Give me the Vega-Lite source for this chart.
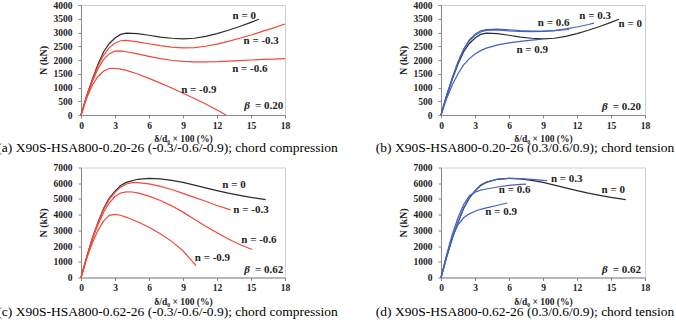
{
  "$schema": "https://vega.github.io/schema/vega-lite/v6.json",
  "padding": {"left": -4, "top": -1, "right": 0, "bottom": 0},
  "autosize": {"type": "pad"},
  "background": "white",
  "bounds": "flush",
  "columns": 2,
  "spacing": {"row": 52.5, "column": 156},
  "datasets": {
    "a": [
      {"s":"n0","t":"ref","x":0,"y":0},{"s":"n0","t":"ref","x":0.5,"y":700},{"s":"n0","t":"ref","x":1,"y":1300},{"s":"n0","t":"ref","x":1.5,"y":1850},{"s":"n0","t":"ref","x":2,"y":2300},{"s":"n0","t":"ref","x":2.5,"y":2600},{"s":"n0","t":"ref","x":3,"y":2800},{"s":"n0","t":"ref","x":3.5,"y":2930},{"s":"n0","t":"ref","x":4,"y":2980},{"s":"n0","t":"ref","x":5,"y":2960},{"s":"n0","t":"ref","x":6,"y":2900},{"s":"n0","t":"ref","x":7,"y":2830},{"s":"n0","t":"ref","x":8,"y":2790},{"s":"n0","t":"ref","x":9,"y":2770},{"s":"n0","t":"ref","x":10,"y":2790},{"s":"n0","t":"ref","x":11,"y":2860},{"s":"n0","t":"ref","x":12,"y":2960},{"s":"n0","t":"ref","x":13,"y":3080},{"s":"n0","t":"ref","x":14,"y":3220},{"s":"n0","t":"ref","x":15,"y":3370},{"s":"n0","t":"ref","x":15.7,"y":3480},
      {"s":"m03","t":"c","x":0,"y":0},{"s":"m03","t":"c","x":0.5,"y":690},{"s":"m03","t":"c","x":1,"y":1270},{"s":"m03","t":"c","x":1.5,"y":1780},{"s":"m03","t":"c","x":2,"y":2180},{"s":"m03","t":"c","x":2.5,"y":2450},{"s":"m03","t":"c","x":3,"y":2620},{"s":"m03","t":"c","x":3.5,"y":2700},{"s":"m03","t":"c","x":4,"y":2710},{"s":"m03","t":"c","x":5,"y":2660},{"s":"m03","t":"c","x":6,"y":2590},{"s":"m03","t":"c","x":7,"y":2520},{"s":"m03","t":"c","x":8,"y":2470},{"s":"m03","t":"c","x":9,"y":2440},{"s":"m03","t":"c","x":10,"y":2450},{"s":"m03","t":"c","x":11,"y":2500},{"s":"m03","t":"c","x":12,"y":2580},{"s":"m03","t":"c","x":13,"y":2680},{"s":"m03","t":"c","x":14,"y":2790},{"s":"m03","t":"c","x":15,"y":2910},{"s":"m03","t":"c","x":16,"y":3040},{"s":"m03","t":"c","x":17,"y":3170},{"s":"m03","t":"c","x":18,"y":3310},
      {"s":"m06","t":"c","x":0,"y":0},{"s":"m06","t":"c","x":0.5,"y":670},{"s":"m06","t":"c","x":1,"y":1220},{"s":"m06","t":"c","x":1.5,"y":1680},{"s":"m06","t":"c","x":2,"y":2020},{"s":"m06","t":"c","x":2.5,"y":2230},{"s":"m06","t":"c","x":3,"y":2320},{"s":"m06","t":"c","x":3.5,"y":2330},{"s":"m06","t":"c","x":4,"y":2300},{"s":"m06","t":"c","x":5,"y":2220},{"s":"m06","t":"c","x":6,"y":2130},{"s":"m06","t":"c","x":7,"y":2050},{"s":"m06","t":"c","x":8,"y":1990},{"s":"m06","t":"c","x":9,"y":1950},{"s":"m06","t":"c","x":10,"y":1930},{"s":"m06","t":"c","x":11,"y":1930},{"s":"m06","t":"c","x":12,"y":1940},{"s":"m06","t":"c","x":13,"y":1960},{"s":"m06","t":"c","x":14,"y":1980},{"s":"m06","t":"c","x":15,"y":2000},{"s":"m06","t":"c","x":16,"y":2020},{"s":"m06","t":"c","x":17,"y":2035},{"s":"m06","t":"c","x":18,"y":2050},
      {"s":"m09","t":"c","x":0,"y":0},{"s":"m09","t":"c","x":0.5,"y":620},{"s":"m09","t":"c","x":1,"y":1080},{"s":"m09","t":"c","x":1.5,"y":1400},{"s":"m09","t":"c","x":2,"y":1600},{"s":"m09","t":"c","x":2.5,"y":1690},{"s":"m09","t":"c","x":3,"y":1700},{"s":"m09","t":"c","x":3.5,"y":1670},{"s":"m09","t":"c","x":4,"y":1620},{"s":"m09","t":"c","x":5,"y":1490},{"s":"m09","t":"c","x":6,"y":1330},{"s":"m09","t":"c","x":7,"y":1160},{"s":"m09","t":"c","x":8,"y":980},{"s":"m09","t":"c","x":9,"y":790},{"s":"m09","t":"c","x":10,"y":600},{"s":"m09","t":"c","x":11,"y":400},{"s":"m09","t":"c","x":12,"y":180},{"s":"m09","t":"c","x":12.8,"y":0}
    ],
    "b": [
      {"s":"n0","t":"ref","x":0,"y":0},{"s":"n0","t":"ref","x":0.5,"y":700},{"s":"n0","t":"ref","x":1,"y":1300},{"s":"n0","t":"ref","x":1.5,"y":1850},{"s":"n0","t":"ref","x":2,"y":2300},{"s":"n0","t":"ref","x":2.5,"y":2600},{"s":"n0","t":"ref","x":3,"y":2800},{"s":"n0","t":"ref","x":3.5,"y":2930},{"s":"n0","t":"ref","x":4,"y":2980},{"s":"n0","t":"ref","x":5,"y":2960},{"s":"n0","t":"ref","x":6,"y":2900},{"s":"n0","t":"ref","x":7,"y":2830},{"s":"n0","t":"ref","x":8,"y":2790},{"s":"n0","t":"ref","x":9,"y":2770},{"s":"n0","t":"ref","x":10,"y":2790},{"s":"n0","t":"ref","x":11,"y":2860},{"s":"n0","t":"ref","x":12,"y":2960},{"s":"n0","t":"ref","x":13,"y":3080},{"s":"n0","t":"ref","x":14,"y":3220},{"s":"n0","t":"ref","x":15,"y":3370},{"s":"n0","t":"ref","x":15.7,"y":3480},
      {"s":"p03","t":"t","x":0,"y":0},{"s":"p03","t":"t","x":0.5,"y":720},{"s":"p03","t":"t","x":1,"y":1350},{"s":"p03","t":"t","x":1.5,"y":1920},{"s":"p03","t":"t","x":2,"y":2380},{"s":"p03","t":"t","x":2.5,"y":2700},{"s":"p03","t":"t","x":3,"y":2900},{"s":"p03","t":"t","x":3.5,"y":3020},{"s":"p03","t":"t","x":4,"y":3080},{"s":"p03","t":"t","x":5,"y":3090},{"s":"p03","t":"t","x":6,"y":3060},{"s":"p03","t":"t","x":7,"y":3040},{"s":"p03","t":"t","x":8,"y":3030},{"s":"p03","t":"t","x":9,"y":3040},{"s":"p03","t":"t","x":10,"y":3070},{"s":"p03","t":"t","x":11,"y":3130},{"s":"p03","t":"t","x":12,"y":3200},{"s":"p03","t":"t","x":13,"y":3290},{"s":"p03","t":"t","x":13.5,"y":3340},
      {"s":"p06","t":"t","x":0,"y":0},{"s":"p06","t":"t","x":0.5,"y":720},{"s":"p06","t":"t","x":1,"y":1350},{"s":"p06","t":"t","x":1.5,"y":1930},{"s":"p06","t":"t","x":2,"y":2400},{"s":"p06","t":"t","x":2.5,"y":2730},{"s":"p06","t":"t","x":3,"y":2940},{"s":"p06","t":"t","x":3.5,"y":3060},{"s":"p06","t":"t","x":4,"y":3110},{"s":"p06","t":"t","x":5,"y":3120},{"s":"p06","t":"t","x":6,"y":3100},{"s":"p06","t":"t","x":7,"y":3070},{"s":"p06","t":"t","x":8,"y":3050},{"s":"p06","t":"t","x":9,"y":3050},{"s":"p06","t":"t","x":10,"y":3070},{"s":"p06","t":"t","x":11,"y":3100},{"s":"p06","t":"t","x":11.3,"y":3110},
      {"s":"p09","t":"t","x":0,"y":0},{"s":"p09","t":"t","x":0.5,"y":600},{"s":"p09","t":"t","x":1,"y":1100},{"s":"p09","t":"t","x":1.5,"y":1500},{"s":"p09","t":"t","x":2,"y":1820},{"s":"p09","t":"t","x":2.5,"y":2050},{"s":"p09","t":"t","x":3,"y":2220},{"s":"p09","t":"t","x":3.5,"y":2340},{"s":"p09","t":"t","x":4,"y":2430},{"s":"p09","t":"t","x":5,"y":2550},{"s":"p09","t":"t","x":6,"y":2620},{"s":"p09","t":"t","x":7,"y":2680},{"s":"p09","t":"t","x":8,"y":2720},{"s":"p09","t":"t","x":8.9,"y":2760}
    ],
    "c": [
      {"s":"n0","t":"ref","x":0,"y":0},{"s":"n0","t":"ref","x":0.5,"y":1300},{"s":"n0","t":"ref","x":1,"y":2500},{"s":"n0","t":"ref","x":1.5,"y":3500},{"s":"n0","t":"ref","x":2,"y":4400},{"s":"n0","t":"ref","x":2.5,"y":5050},{"s":"n0","t":"ref","x":3,"y":5500},{"s":"n0","t":"ref","x":3.5,"y":5850},{"s":"n0","t":"ref","x":4,"y":6050},{"s":"n0","t":"ref","x":5,"y":6250},{"s":"n0","t":"ref","x":6,"y":6310},{"s":"n0","t":"ref","x":7,"y":6270},{"s":"n0","t":"ref","x":8,"y":6180},{"s":"n0","t":"ref","x":9,"y":6050},{"s":"n0","t":"ref","x":10,"y":5880},{"s":"n0","t":"ref","x":11,"y":5700},{"s":"n0","t":"ref","x":12,"y":5530},{"s":"n0","t":"ref","x":13,"y":5370},{"s":"n0","t":"ref","x":14,"y":5230},{"s":"n0","t":"ref","x":15,"y":5100},{"s":"n0","t":"ref","x":16.3,"y":4960},
      {"s":"m03","t":"c","x":0,"y":0},{"s":"m03","t":"c","x":0.5,"y":1290},{"s":"m03","t":"c","x":1,"y":2480},{"s":"m03","t":"c","x":1.5,"y":3480},{"s":"m03","t":"c","x":2,"y":4350},{"s":"m03","t":"c","x":2.5,"y":4980},{"s":"m03","t":"c","x":3,"y":5420},{"s":"m03","t":"c","x":3.5,"y":5750},{"s":"m03","t":"c","x":4,"y":5950},{"s":"m03","t":"c","x":4.5,"y":6040},{"s":"m03","t":"c","x":5,"y":6040},{"s":"m03","t":"c","x":6,"y":5960},{"s":"m03","t":"c","x":7,"y":5800},{"s":"m03","t":"c","x":8,"y":5600},{"s":"m03","t":"c","x":9,"y":5350},{"s":"m03","t":"c","x":10,"y":5100},{"s":"m03","t":"c","x":11,"y":4850},{"s":"m03","t":"c","x":12,"y":4580},{"s":"m03","t":"c","x":13.2,"y":4300},
      {"s":"m06","t":"c","x":0,"y":0},{"s":"m06","t":"c","x":0.5,"y":1270},{"s":"m06","t":"c","x":1,"y":2420},{"s":"m06","t":"c","x":1.5,"y":3380},{"s":"m06","t":"c","x":2,"y":4150},{"s":"m06","t":"c","x":2.5,"y":4750},{"s":"m06","t":"c","x":3,"y":5150},{"s":"m06","t":"c","x":3.5,"y":5380},{"s":"m06","t":"c","x":4,"y":5450},{"s":"m06","t":"c","x":4.5,"y":5440},{"s":"m06","t":"c","x":5,"y":5380},{"s":"m06","t":"c","x":6,"y":5180},{"s":"m06","t":"c","x":7,"y":4900},{"s":"m06","t":"c","x":8,"y":4560},{"s":"m06","t":"c","x":9,"y":4160},{"s":"m06","t":"c","x":10,"y":3710},{"s":"m06","t":"c","x":11,"y":3260},{"s":"m06","t":"c","x":12,"y":2850},{"s":"m06","t":"c","x":13,"y":2450},{"s":"m06","t":"c","x":14,"y":2100},{"s":"m06","t":"c","x":15.1,"y":1780},
      {"s":"m09","t":"c","x":0,"y":0},{"s":"m09","t":"c","x":0.5,"y":1200},{"s":"m09","t":"c","x":1,"y":2200},{"s":"m09","t":"c","x":1.5,"y":3000},{"s":"m09","t":"c","x":2,"y":3600},{"s":"m09","t":"c","x":2.5,"y":3950},{"s":"m09","t":"c","x":3,"y":4020},{"s":"m09","t":"c","x":3.5,"y":3960},{"s":"m09","t":"c","x":4,"y":3830},{"s":"m09","t":"c","x":5,"y":3550},{"s":"m09","t":"c","x":6,"y":3200},{"s":"m09","t":"c","x":7,"y":2780},{"s":"m09","t":"c","x":8,"y":2300},{"s":"m09","t":"c","x":9,"y":1700},{"s":"m09","t":"c","x":10.15,"y":750}
    ],
    "d": [
      {"s":"n0","t":"ref","x":0,"y":0},{"s":"n0","t":"ref","x":0.5,"y":1300},{"s":"n0","t":"ref","x":1,"y":2500},{"s":"n0","t":"ref","x":1.5,"y":3500},{"s":"n0","t":"ref","x":2,"y":4400},{"s":"n0","t":"ref","x":2.5,"y":5050},{"s":"n0","t":"ref","x":3,"y":5500},{"s":"n0","t":"ref","x":3.5,"y":5850},{"s":"n0","t":"ref","x":4,"y":6050},{"s":"n0","t":"ref","x":5,"y":6250},{"s":"n0","t":"ref","x":6,"y":6310},{"s":"n0","t":"ref","x":7,"y":6270},{"s":"n0","t":"ref","x":8,"y":6180},{"s":"n0","t":"ref","x":9,"y":6050},{"s":"n0","t":"ref","x":10,"y":5880},{"s":"n0","t":"ref","x":11,"y":5700},{"s":"n0","t":"ref","x":12,"y":5530},{"s":"n0","t":"ref","x":13,"y":5370},{"s":"n0","t":"ref","x":14,"y":5230},{"s":"n0","t":"ref","x":15,"y":5100},{"s":"n0","t":"ref","x":16.3,"y":4960},
      {"s":"p03","t":"t","x":0,"y":0},{"s":"p03","t":"t","x":0.5,"y":1310},{"s":"p03","t":"t","x":1,"y":2520},{"s":"p03","t":"t","x":1.5,"y":3520},{"s":"p03","t":"t","x":2,"y":4420},{"s":"p03","t":"t","x":2.5,"y":5080},{"s":"p03","t":"t","x":3,"y":5530},{"s":"p03","t":"t","x":3.5,"y":5880},{"s":"p03","t":"t","x":4,"y":6080},{"s":"p03","t":"t","x":5,"y":6270},{"s":"p03","t":"t","x":6,"y":6310},{"s":"p03","t":"t","x":7,"y":6290},{"s":"p03","t":"t","x":8,"y":6240},{"s":"p03","t":"t","x":9,"y":6180},{"s":"p03","t":"t","x":9.35,"y":6160},
      {"s":"p06","t":"t","x":0,"y":0},{"s":"p06","t":"t","x":0.5,"y":1450},{"s":"p06","t":"t","x":1,"y":2750},{"s":"p06","t":"t","x":1.5,"y":3800},{"s":"p06","t":"t","x":2,"y":4650},{"s":"p06","t":"t","x":2.5,"y":5200},{"s":"p06","t":"t","x":3,"y":5430},{"s":"p06","t":"t","x":3.5,"y":5560},{"s":"p06","t":"t","x":4,"y":5630},{"s":"p06","t":"t","x":5,"y":5760},{"s":"p06","t":"t","x":6,"y":5860},{"s":"p06","t":"t","x":7,"y":5920},{"s":"p06","t":"t","x":7.5,"y":5940},
      {"s":"p09","t":"t","x":0,"y":0},{"s":"p09","t":"t","x":0.5,"y":1400},{"s":"p09","t":"t","x":1,"y":2600},{"s":"p09","t":"t","x":1.5,"y":3350},{"s":"p09","t":"t","x":2,"y":3800},{"s":"p09","t":"t","x":2.5,"y":4050},{"s":"p09","t":"t","x":3,"y":4220},{"s":"p09","t":"t","x":3.5,"y":4340},{"s":"p09","t":"t","x":4,"y":4430},{"s":"p09","t":"t","x":5,"y":4600},{"s":"p09","t":"t","x":5.85,"y":4740}
    ],
    "la": [
      {"k":"n","x":14.4,"y":3590,"label":"n = 0"},{"k":"n","x":15.9,"y":2675,"label":"n = -0.3"},{"k":"n","x":14.9,"y":1687,"label":"n = -0.6"},{"k":"n","x":10.4,"y":904,"label":"n = -0.9"},
      {"k":"b","x":14.4,"y":325,"label":"β"},{"k":"v","x":15.35,"y":325,"label":"= 0.20"}
    ],
    "lb": [
      {"k":"n","x":9.94,"y":3350,"label":"n = 0.6"},{"k":"n","x":13.6,"y":3590,"label":"n = 0.3"},{"k":"n","x":16.7,"y":3313,"label":"n = 0"},{"k":"n","x":8.05,"y":2350,"label":"n = 0.9"},
      {"k":"b","x":14.2,"y":300,"label":"β"},{"k":"v","x":15.15,"y":300,"label":"= 0.20"}
    ],
    "lc": [
      {"k":"n","x":13.5,"y":5880,"label":"n = 0"},{"k":"n","x":15.0,"y":4313,"label":"n = -0.3"},{"k":"n","x":15.7,"y":2380,"label":"n = -0.6"},{"k":"n","x":11.6,"y":1266,"label":"n = -0.9"},
      {"k":"b","x":14.4,"y":450,"label":"β"},{"k":"v","x":15.35,"y":450,"label":"= 0.62"}
    ],
    "ld": [
      {"k":"n","x":11.1,"y":6300,"label":"n = 0.3"},{"k":"n","x":6.5,"y":5560,"label":"n = 0.6"},{"k":"n","x":15.2,"y":5560,"label":"n = 0"},{"k":"n","x":5.3,"y":4160,"label":"n = 0.9"},
      {"k":"b","x":14.2,"y":450,"label":"β"},{"k":"v","x":15.15,"y":450,"label":"= 0.62"}
    ]
  },
  "config": {
    "font": "Liberation Serif, serif",
    "view": {"stroke": "#cfcfcf", "strokeWidth": 1},
    "axis": {
      "labelFont": "Liberation Serif, serif", "labelFontWeight": "bold", "labelFontSize": 9.5, "labelColor": "#222", "labelOverlap": false, "labelFlush": false,
      "titleFont": "Liberation Serif, serif", "titleFontWeight": "bold", "titleFontSize": 10, "titleColor": "#222",
      "grid": false, "domainColor": "#888", "tickColor": "#888", "tickSize": 3
    },
    "axisX": {"labelPadding": 2, "titlePadding": 4, "titleFontSize": 9.5},
    "axisY": {"labelPadding": 6, "titlePadding": 5, "format": "d"},
    "title": {"font": "Liberation Serif, serif", "fontSize": 13.5, "fontWeight": "normal", "color": "#000", "orient": "bottom", "anchor": "middle"},
    "line": {"strokeWidth": 1.2},
    "text": {"font": "Liberation Serif, serif", "fontWeight": "bold", "fontSize": 11, "color": "#222"}
  },
  "concat": [
    {
      "width": 204, "height": 110,
      "title": {"text": "(a) X90S-HSA800-0.20-26 (-0.3/-0.6/-0.9); chord compression", "dx": -15.5, "offset": -2},
      "encoding": {
        "x": {"field": "x", "type": "quantitative", "scale": {"domain": [0, 18], "nice": false}, "axis": {"values": [0,3,6,9,12,15,18], "title": "δ/d₀ × 100 (%)"}},
        "y": {"field": "y", "type": "quantitative", "scale": {"domain": [0, 4000], "nice": false}, "axis": {"values": [0,500,1000,1500,2000,2500,3000,3500,4000], "title": "N (kN)"}}
      },
      "layer": [
        {"data": {"name": "a"}, "mark": "line",
         "encoding": {
           "detail": {"field": "s"},
           "color": {"field": "t", "type": "nominal", "scale": {"domain": ["ref","c","t"], "range": ["#2b2b2b","#f0483a","#4262c2"]}, "legend": null}
         }},
        {"data": {"name": "la"}, "transform": [{"filter": "datum.k === 'n'"}], "mark": "text", "encoding": {"text": {"field": "label"}}},
        {"data": {"name": "la"}, "transform": [{"filter": "datum.k === 'b'"}], "mark": {"type": "text", "align": "left", "fontStyle": "italic"}, "encoding": {"text": {"field": "label"}}},
        {"data": {"name": "la"}, "transform": [{"filter": "datum.k === 'v'"}], "mark": {"type": "text", "align": "left"}, "encoding": {"text": {"field": "label"}}}
      ]
    },
    {
      "width": 204, "height": 110,
      "title": {"text": "(b) X90S-HSA800-0.20-26 (0.3/0.6/0.9); chord tension", "dx": -18, "offset": -2},
      "encoding": {
        "x": {"field": "x", "type": "quantitative", "scale": {"domain": [0, 18], "nice": false}, "axis": {"values": [0,3,6,9,12,15,18], "title": "δ/d₀ × 100 (%)"}},
        "y": {"field": "y", "type": "quantitative", "scale": {"domain": [0, 4000], "nice": false}, "axis": {"values": [0,500,1000,1500,2000,2500,3000,3500,4000], "title": "N (kN)"}}
      },
      "layer": [
        {"data": {"name": "b"}, "mark": "line",
         "encoding": {
           "detail": {"field": "s"},
           "color": {"field": "t", "type": "nominal", "scale": {"domain": ["ref","c","t"], "range": ["#2b2b2b","#f0483a","#4262c2"]}, "legend": null}
         }},
        {"data": {"name": "lb"}, "transform": [{"filter": "datum.k === 'n'"}], "mark": "text", "encoding": {"text": {"field": "label"}}},
        {"data": {"name": "lb"}, "transform": [{"filter": "datum.k === 'b'"}], "mark": {"type": "text", "align": "left", "fontStyle": "italic"}, "encoding": {"text": {"field": "label"}}},
        {"data": {"name": "lb"}, "transform": [{"filter": "datum.k === 'v'"}], "mark": {"type": "text", "align": "left"}, "encoding": {"text": {"field": "label"}}}
      ]
    },
    {
      "width": 204, "height": 110,
      "title": {"text": "(c) X90S-HSA800-0.62-26 (-0.3/-0.6/-0.9); chord compression", "dx": -15.5, "offset": -0.5},
      "encoding": {
        "x": {"field": "x", "type": "quantitative", "scale": {"domain": [0, 18], "nice": false}, "axis": {"values": [0,3,6,9,12,15,18], "title": "δ/d₀ × 100 (%)"}},
        "y": {"field": "y", "type": "quantitative", "scale": {"domain": [0, 7000], "nice": false}, "axis": {"values": [0,1000,2000,3000,4000,5000,6000,7000], "title": "N (kN)"}}
      },
      "layer": [
        {"data": {"name": "c"}, "mark": "line",
         "encoding": {
           "detail": {"field": "s"},
           "color": {"field": "t", "type": "nominal", "scale": {"domain": ["ref","c","t"], "range": ["#2b2b2b","#f0483a","#4262c2"]}, "legend": null}
         }},
        {"data": {"name": "lc"}, "transform": [{"filter": "datum.k === 'n'"}], "mark": "text", "encoding": {"text": {"field": "label"}}},
        {"data": {"name": "lc"}, "transform": [{"filter": "datum.k === 'b'"}], "mark": {"type": "text", "align": "left", "fontStyle": "italic"}, "encoding": {"text": {"field": "label"}}},
        {"data": {"name": "lc"}, "transform": [{"filter": "datum.k === 'v'"}], "mark": {"type": "text", "align": "left"}, "encoding": {"text": {"field": "label"}}}
      ]
    },
    {
      "width": 204, "height": 110,
      "title": {"text": "(d) X90S-HSA800-0.62-26 (0.3/0.6/0.9); chord tension", "dx": -18, "offset": -0.5},
      "encoding": {
        "x": {"field": "x", "type": "quantitative", "scale": {"domain": [0, 18], "nice": false}, "axis": {"values": [0,3,6,9,12,15,18], "title": "δ/d₀ × 100 (%)"}},
        "y": {"field": "y", "type": "quantitative", "scale": {"domain": [0, 7000], "nice": false}, "axis": {"values": [0,1000,2000,3000,4000,5000,6000,7000], "title": "N (kN)"}}
      },
      "layer": [
        {"data": {"name": "d"}, "mark": "line",
         "encoding": {
           "detail": {"field": "s"},
           "color": {"field": "t", "type": "nominal", "scale": {"domain": ["ref","c","t"], "range": ["#2b2b2b","#f0483a","#4262c2"]}, "legend": null}
         }},
        {"data": {"name": "ld"}, "transform": [{"filter": "datum.k === 'n'"}], "mark": "text", "encoding": {"text": {"field": "label"}}},
        {"data": {"name": "ld"}, "transform": [{"filter": "datum.k === 'b'"}], "mark": {"type": "text", "align": "left", "fontStyle": "italic"}, "encoding": {"text": {"field": "label"}}},
        {"data": {"name": "ld"}, "transform": [{"filter": "datum.k === 'v'"}], "mark": {"type": "text", "align": "left"}, "encoding": {"text": {"field": "label"}}}
      ]
    }
  ]
}
